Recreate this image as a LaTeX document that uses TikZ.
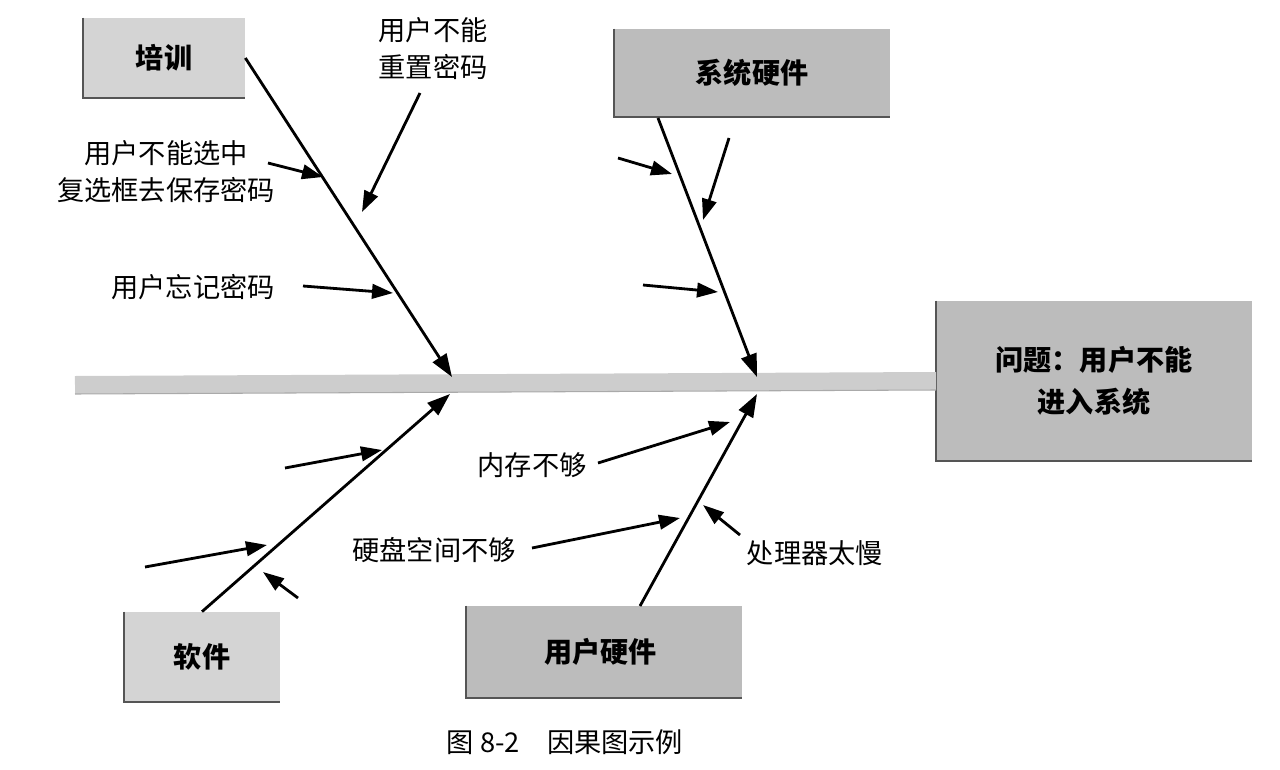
\documentclass[tikz,border=0pt]{standalone}
\usepackage{fontspec}
\setmainfont{Liberation Serif}
\newfontfamily\cjk{Noto Sans CJK SC}
\usepackage{xcolor}
\usepackage{tikz}
\usetikzlibrary{positioning,arrows.meta,calc}
\definecolor{BoxLight}{HTML}{D4D4D4}
\definecolor{BoxDark}{HTML}{BCBCBC}
\definecolor{SpineGray}{HTML}{CDCDCD}
\definecolor{EdgeGray}{HTML}{555555}

\begin{document}
\begin{tikzpicture}[x=0.02cm,y=-0.02cm,
    every node/.style={font=\cjk\fontsize{15.5}{21}\selectfont, align=center},
    causebox/.style={fill=#1, inner sep=0pt},
    boxedge/.style={EdgeGray, line width=1pt},
    branch/.style={line width=1.6pt, -{Triangle[length=4.6mm,width=3.2mm]}},
    twig/.style={line width=1.6pt, -{Triangle[length=4.2mm,width=2.9mm]}}]
  \useasboundingbox (0,0) rectangle (1280,770);

  % cause boxes and the problem box
  \foreach \name/\x/\y/\w/\h/\col/\txt in {
    train/164/58/162/80/BoxLight/{培训},
    syshw/752/73/275/88/BoxDark/{系统硬件},
    problem/1094/381/315/160/BoxDark/{问题：用户不能\\进入系统},
    soft/202/657/155/90/BoxLight/{软件},
    userhw/604/652/276/92/BoxDark/{用户硬件}
  }{
    \node[causebox=\col, minimum width=\w*0.02cm, minimum height=\h*0.02cm,
          font=\cjk\bfseries\fontsize{16}{24}\selectfont]
      (\name) at (\x,\y) {\txt};
    \draw[boxedge] (\name.north west) -- (\name.south west) -- (\name.south east);
  }

  % spine
  \coordinate (tail) at (75,385);
  \draw[SpineGray, line width=0.36cm] (tail) -- (problem.west);
  \draw[EdgeGray!50, line width=0.6pt] ([yshift=-0.18cm]tail) -- ([yshift=-0.18cm]problem.west);

  % points on the spine
  \coordinate (jtl) at (452,377);
  \coordinate (jtr) at (757,377);
  \coordinate (jbl) at (450,394);
  \coordinate (jbr) at (757,394);
  \coordinate (syshwfoot) at (658,118);
  \coordinate (userhwtop) at (640,606);

  % main branches
  \draw[branch] (train.east) -- (jtl);
  \draw[branch] (syshwfoot) -- (jtr);
  \draw[branch] (soft.north) -- (jbl);
  \draw[branch] (userhwtop) -- (jbr);

  % labels of the causes
  \node (lbox)   at (166,172) {用户不能选中\\复选框去保存密码};
  \node (lreset) at (433,49)  {用户不能\\重置密码};
  \node (lforget) at (193,287) {用户忘记密码};
  \node (lmem)   at (532,465) {内存不够};
  \node (ldisk)  at (434,550) {硬盘空间不够};
  \node (lcpu)   at (815,553) {处理器太慢};

  % small arrows into the branches
  \foreach \i/\ax/\ay/\bx/\by in {
    1/268/163/323/177, 2/420/93/362/212, 3/303/286/393/293,
    4/618/158/672/174, 5/729/138/703/220, 6/643/285/718/292,
    7/285/468/382/450, 8/145/567/267/545, 9/298/598/263/572,
    10/598/463/730/422, 11/532/548/680/518, 12/740/535/703/505
  }{
    \coordinate (s\i) at (\ax,\ay);
    \coordinate (e\i) at (\bx,\by);
    \draw[twig] (s\i) -- (e\i);
  }

  % caption
  \node (caption) at (565,742) {图 8-2\quad 因果图示例};
\end{tikzpicture}
\end{document}
